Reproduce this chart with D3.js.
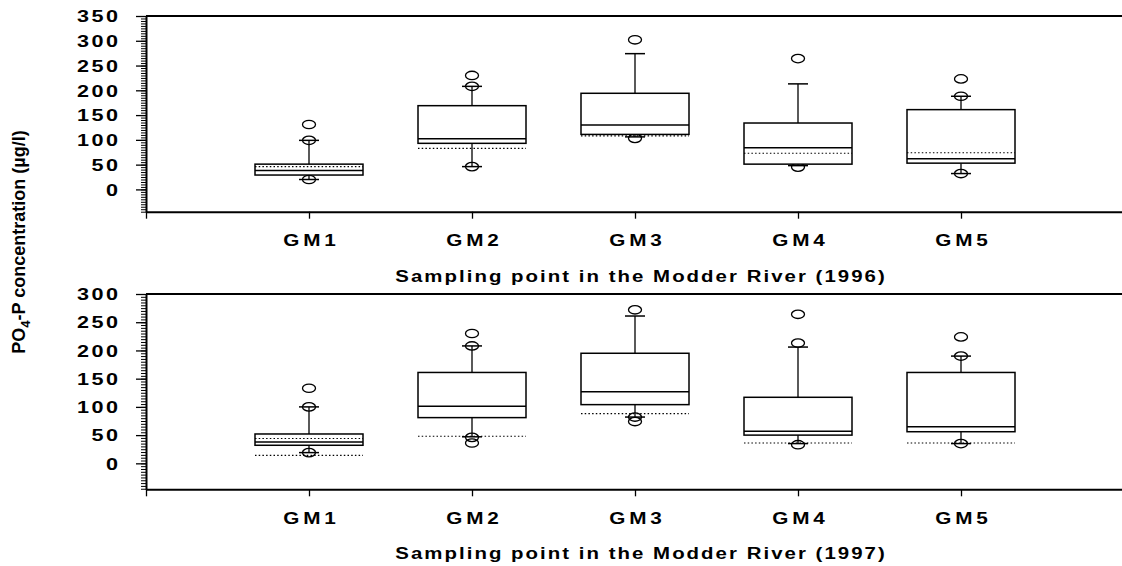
<!DOCTYPE html>
<html>
<head>
<meta charset="utf-8">
<script src="https://cdn.jsdelivr.net/npm/d3@7"></script>
<style>
  body { margin: 0; background: #fff; }
  svg { display: block; }
  text { font-family: "Liberation Sans", Arial, Helvetica, sans-serif; font-weight: bold; fill: #000; }
</style>
</head>
<body>
<svg id="chart" width="1122" height="566"></svg>
<script>
// Sampling points along the Modder River
const sites = ["GM1", "GM2", "GM3", "GM4", "GM5"];

// PO4-P, 1996 (µg/l): whisker ends, quartiles, medians, mean lines, single readings
const low1996  = [20, 46, 106, 48, 32];
const q1_1996  = [29, 93, 111, 51, 53];
const med1996  = [38, 102, 130, 84, 62];
const q3_1996  = [51, 169, 194, 134, 161];
const high1996 = [99, 208, 274, 213, 188];
const mean1996 = [46, 83, 108, 73, 74];
const out1996  = [[20, 99, 131], [46, 208, 230], [103, 302], [45, 264], [32, 188, 223]];

// PO4-P, 1997 (µg/l)
const low1997  = [19, 47, 82, 35, 35];
const q1_1997  = [32, 81, 104, 50, 56];
const med1997  = [38, 101, 127, 57, 65];
const q3_1997  = [52, 161, 195, 117, 161];
const high1997 = [100, 208, 261, 206, 190];
const mean1997 = [44, null, null, null, null];
const ref1997  = [14, 48, 88, 36, 36];
const out1997  = [[19, 100, 133], [46, 36, 208, 230], [82, 74, 272], [33, 213, 264], [35, 190, 224]];

const ticks1996 = [0, 50, 100, 150, 200, 250, 300, 350];
const ticks1997 = [0, 50, 100, 150, 200, 250, 300];

const svg = d3.select("#chart");
const x = d3.scaleLinear().domain([0, 6]).range([146, 1124]);
const boxW = 108, capW = 20;

// wide, spaced lettering: [font size, horizontal stretch, letter spacing]
const tickFont = [16, 1.35, 1.8];
const siteFont = [17, 1.22, 3.2];
const titleFont = [17, 1.2, 1.7];

function drawPanel(p) {
  const y = d3.scaleLinear().domain([p.min, p.max]).range([p.bottom, p.top]);
  const g = svg.append("g");

  // top frame line
  g.append("line")
    .attr("x1", x(0)).attr("x2", 1122)
    .attr("y1", y(p.max)).attr("y2", y(p.max))
    .attr("stroke", "#000").attr("stroke-width", 2);

  // minor ticks every 5 µg/l
  g.append("g")
    .attr("transform", `translate(${x(0)},0)`)
    .call(d3.axisLeft(y)
      .tickValues(d3.range(Math.ceil(p.min / 5) * 5, p.max + 1, 5))
      .tickSize(5).tickFormat(""))
    .call(a => a.select(".domain").remove())
    .selectAll("line").attr("stroke-width", 1);

  // major y axis
  const ya = g.append("g")
    .attr("transform", `translate(${x(0)},0)`)
    .call(d3.axisLeft(y).tickValues(p.ticks).tickSize(10).tickSizeOuter(0));
  ya.select(".domain").attr("stroke-width", 2);
  ya.selectAll(".tick line").attr("stroke-width", 1.3);
  ya.selectAll("text")
    .attr("x", 0).attr("dy", "0.36em").attr("dx", tickFont[2])
    .attr("transform", `translate(-28,0) scale(${tickFont[1]},1)`)
    .style("font-size", tickFont[0] + "px").style("letter-spacing", tickFont[2] + "px");

  // x axis
  const xa = g.append("g")
    .attr("transform", `translate(0,${y(p.min)})`)
    .call(d3.axisBottom(x).tickValues([0, 1, 2, 3, 4, 5]).tickSize(7).tickSizeOuter(0)
      .tickFormat(d => d === 0 ? "" : sites[d - 1]));
  xa.select(".domain").attr("stroke-width", 2);
  xa.selectAll(".tick line").attr("stroke-width", 1.3);
  xa.selectAll("text")
    .attr("y", 34.5).attr("dy", 0).attr("dx", siteFont[2] / 2)
    .attr("transform", `scale(${siteFont[1]},1)`)
    .style("font-size", siteFont[0] + "px").style("letter-spacing", siteFont[2] + "px");

  // x axis title
  g.append("text")
    .attr("text-anchor", "middle")
    .attr("dx", titleFont[2] / 2)
    .attr("transform", `translate(640,${y(p.min) + 70}) scale(${titleFont[1]},1)`)
    .style("font-size", titleFont[0] + "px").style("letter-spacing", titleFont[2] + "px")
    .text(`Sampling point in the Modder River (${p.year})`);

  // boxes
  sites.forEach((s, i) => {
    const cx = x(i + 1);
    const b = g.append("g");
    const line = (x1, x2, y1, y2) => b.append("line")
      .attr("x1", x1).attr("x2", x2).attr("y1", y1).attr("y2", y2)
      .attr("stroke", "#000");

    line(cx, cx, y(p.low[i]), y(p.q1[i])).attr("stroke-width", 1.3);
    line(cx, cx, y(p.q3[i]), y(p.high[i])).attr("stroke-width", 1.3);
    line(cx - capW / 2, cx + capW / 2, y(p.low[i]), y(p.low[i])).attr("stroke-width", 1.5);
    line(cx - capW / 2, cx + capW / 2, y(p.high[i]), y(p.high[i])).attr("stroke-width", 1.5);

    b.selectAll("ellipse").data(p.out[i]).join("ellipse")
      .attr("cx", cx).attr("cy", d => y(d))
      .attr("rx", 6.5).attr("ry", 4.2)
      .attr("fill", "none").attr("stroke", "#000").attr("stroke-width", 1.3);

    b.append("rect")
      .attr("x", cx - boxW / 2).attr("width", boxW)
      .attr("y", y(p.q3[i])).attr("height", y(p.q1[i]) - y(p.q3[i]))
      .attr("fill", "#fff").attr("stroke", "#000").attr("stroke-width", 1.5);

    line(cx - boxW / 2, cx + boxW / 2, y(p.med[i]), y(p.med[i])).attr("stroke-width", 1.5);

    [p.mean[i], p.ref ? p.ref[i] : null].forEach(v => {
      if (v == null) return;
      line(cx - boxW / 2, cx + boxW / 2, y(v), y(v))
        .attr("stroke-width", 1.2).attr("stroke-dasharray", "1.5 2.2");
    });
  });
}

drawPanel({ year: "1996", min: -45, max: 350, top: 16, bottom: 211.7, ticks: ticks1996,
  low: low1996, q1: q1_1996, med: med1996, q3: q3_1996, high: high1996, mean: mean1996, out: out1996 });
drawPanel({ year: "1997", min: -46, max: 300, top: 294, bottom: 489.3, ticks: ticks1997,
  low: low1997, q1: q1_1997, med: med1997, q3: q3_1997, high: high1997, mean: mean1997, ref: ref1997, out: out1997 });

// shared y axis title
const yt = svg.append("text")
  .attr("text-anchor", "middle")
  .attr("transform", "translate(25,242) rotate(-90)")
  .style("font-size", "18px");
yt.append("tspan").text("PO");
yt.append("tspan").text("4").attr("dy", 5).style("font-size", "13px");
yt.append("tspan").text("-P concentration (µg/l)").attr("dy", -5);
</script>
</body>
</html>
